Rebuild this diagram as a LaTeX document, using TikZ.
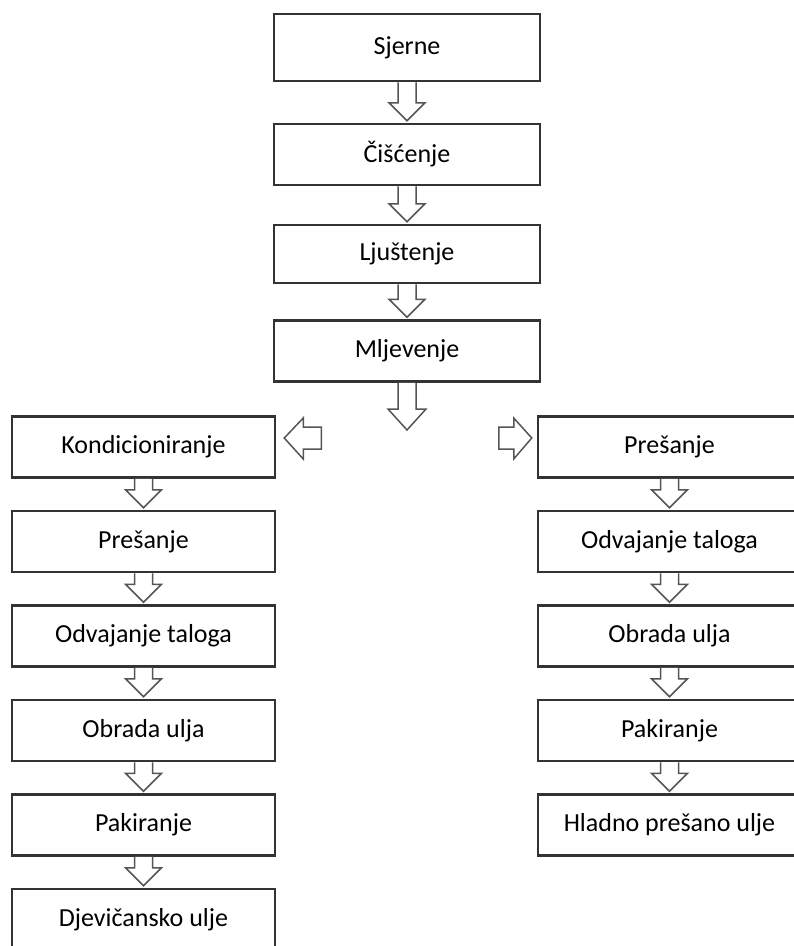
\documentclass[tikz,border=0pt]{standalone}
\usepackage{fontspec}
\setmainfont{Carlito}
\usetikzlibrary{calc}
\definecolor{boxgray}{HTML}{333333}
\definecolor{arrowgray}{HTML}{555555}
\tikzset{
  box/.style={draw=boxgray, line width=2.5pt, fill=white, minimum width=263pt,
    minimum height=61pt, inner sep=0pt, font=\fontsize{26}{30}\selectfont},
  topbox/.style={box, minimum width=266pt},
  barrow/.style={draw=arrowgray, line width=1.5pt, fill=white, line join=miter},
}
\newcommand\downarr[2]{%
  \filldraw[barrow] let \p1=(#1.south), \p2=(#2.north) in
    (\x1-9pt,\y1) -- (\x1-9pt,\y2+20pt) -- (\x1-18pt,\y2+20pt) -- (\x1,\y2+2pt)
    -- (\x1+18pt,\y2+20pt) -- (\x1+9pt,\y2+20pt) -- (\x1+9pt,\y1);}
\begin{document}
\begin{tikzpicture}[x=1pt,y=-1pt]
\useasboundingbox (0,0) rectangle (794,946);
\clip (0,0) rectangle (794,946);
% top column
\node[topbox, minimum height=67pt] (sj) at (407,47.5) {Sjerne};
\node[topbox] (ci) at (407,154.5) {Čišćenje};
\node[topbox, minimum height=58pt] (lj) at (407,254) {Ljuštenje};
\node[topbox] (ml) at (407,351) {Mljevenje};
\coordinate (split) at (407,430);
% left column
\node[box] (ko) at (143.5,447) {Kondicioniranje};
\node[box] (pl) at (143.5,541.5) {Prešanje};
\node[box] (ol) at (143.5,636) {Odvajanje taloga};
\node[box] (bl) at (143.5,730.5) {Obrada ulja};
\node[box] (kl) at (143.5,825) {Pakiranje};
\node[box] (dj) at (143.5,919.5) {Djevičansko ulje};
% right column
\node[box] (pr) at (669.5,447) {Prešanje};
\node[box] (or) at (669.5,541.5) {Odvajanje taloga};
\node[box] (br) at (669.5,636) {Obrada ulja};
\node[box] (kr) at (669.5,730.5) {Pakiranje};
\node[box] (hl) at (669.5,825) {Hladno prešano ulje};
% arrows
\downarr{sj}{ci}
\downarr{ci}{lj}
\downarr{lj}{ml}
\filldraw[barrow] let \p1=(ml.south), \p2=(split) in
  (\x1-9pt,\y1) -- (\x1-9pt,\y2+21pt) -- (\x1-19pt,\y2+21pt) -- (\x2,\y2)
  -- (\x1+19pt,\y2+21pt) -- (\x1+9pt,\y2+21pt) -- (\x1+9pt,\y1);
\filldraw[barrow] let \p1=(ko.east) in
  (\x1+8pt,\y1+9pt) -- (\x1+27pt,\y1+29pt) -- (\x1+27pt,\y1+20pt) -- (\x1+45pt,\y1+20pt)
  -- (\x1+45pt,\y1-2pt) -- (\x1+27pt,\y1-2pt) -- (\x1+27pt,\y1-12pt) -- cycle;
\filldraw[barrow] let \p1=(pr.west) in
  (\x1-5pt,\y1+9pt) -- (\x1-23pt,\y1+29pt) -- (\x1-23pt,\y1+20pt) -- (\x1-38pt,\y1+20pt)
  -- (\x1-38pt,\y1-2pt) -- (\x1-23pt,\y1-2pt) -- (\x1-23pt,\y1-12pt) -- cycle;
\downarr{ko}{pl}
\downarr{pl}{ol}
\downarr{ol}{bl}
\downarr{bl}{kl}
\downarr{kl}{dj}
\downarr{pr}{or}
\downarr{or}{br}
\downarr{br}{kr}
\downarr{kr}{hl}
\end{tikzpicture}
\end{document}
